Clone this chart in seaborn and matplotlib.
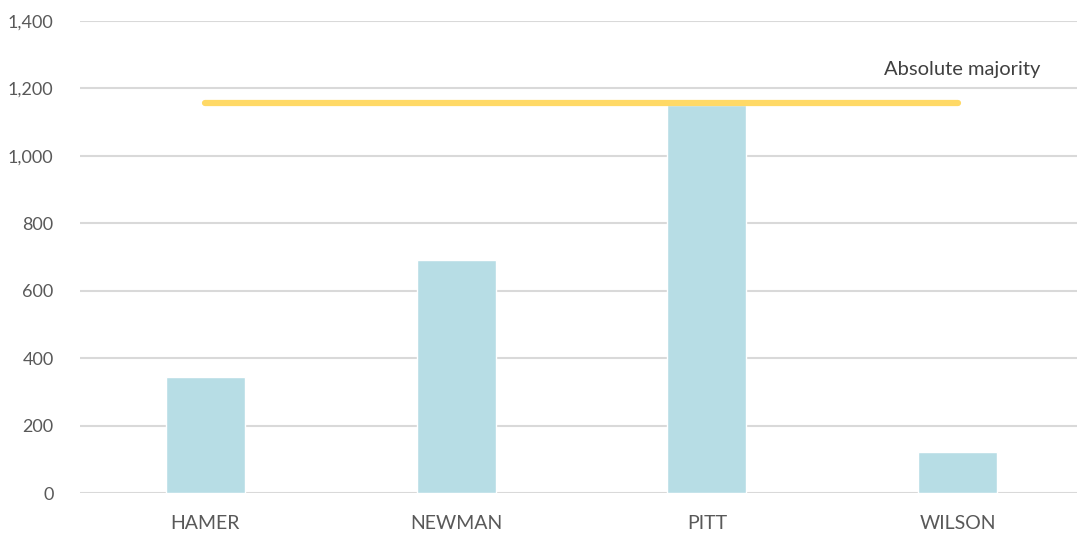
import matplotlib
matplotlib.use("Agg")
import matplotlib.pyplot as plt
import seaborn as sns
import pandas as pd

# data
candidates = ["HAMER", "NEWMAN", "PITT", "WILSON"]
votes = [344, 691, 1150, 122]
majority = [1157, 1157, 1157, 1157]
y_ticks = [0, 200, 400, 600, 800, 1000, 1200, 1400]

sns.set_theme(style="white")
plt.rcParams["font.family"] = ["Lato", "DejaVu Sans"]

df = pd.DataFrame({"candidate": candidates, "votes": votes})

fig = plt.figure(figsize=(10.77, 5.37), dpi=100)
ax = fig.add_axes([80 / 1077, 1 - 493 / 537, 1003 / 1077, 472 / 537])

sns.barplot(data=df, x="candidate", y="votes", color="#B7DDE5",
            saturation=1, width=0.315, ax=ax, zorder=2)
ax.plot(range(len(candidates)), majority, color="#FFD966", lw=4.5,
        solid_capstyle="round", zorder=3)
ax.text(3.33, 1230, "Absolute majority", ha="right", va="bottom",
        fontsize=14.5, color="#404040")

ax.set_xlim(-0.5, 3.5)
ax.set_ylim(0, 1400)
ax.set_yticks(y_ticks)
ax.set_yticklabels([f"{v:,}" for v in y_ticks])
ax.yaxis.grid(True, color="#D9D9D9", lw=1.5, zorder=0)
ax.set_axisbelow(True)
ax.tick_params(axis="y", length=0, pad=19, labelsize=13, labelcolor="#595959")
ax.tick_params(axis="x", length=0, pad=16, labelsize=14, labelcolor="#595959")
ax.set_xlabel("")
ax.set_ylabel("")
sns.despine(ax=ax, left=True, bottom=True, top=True, right=True)

fig.savefig("out.png", dpi=100)
